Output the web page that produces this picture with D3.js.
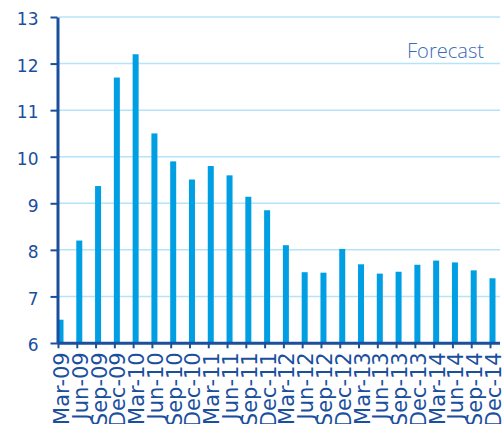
<!DOCTYPE html>
<html>
<head>
<meta charset="utf-8">
<script src="https://cdn.jsdelivr.net/npm/d3@7"></script>
<style>
  body { margin: 0; background: #ffffff; }
  svg { display: block; }
</style>
</head>
<body>
<script>
// quarterly values
var quarters = ["Mar-09", "Jun-09", "Sep-09", "Dec-09", "Mar-10", "Jun-10", "Sep-10", "Dec-10",
                "Mar-11", "Jun-11", "Sep-11", "Dec-11", "Mar-12", "Jun-12", "Sep-12", "Dec-12",
                "Mar-13", "Jun-13", "Sep-13", "Dec-13", "Mar-14", "Jun-14", "Sep-14", "Dec-14"];
var values = [6.5, 8.2, 9.37, 11.7, 12.2, 10.5, 9.9, 9.51,
              9.8, 9.6, 9.14, 8.85, 8.1, 7.52, 7.51, 8.02,
              7.69, 7.49, 7.53, 7.68, 7.77, 7.73, 7.56, 7.39];
var yTicks = [6, 7, 8, 9, 10, 11, 12, 13];
var noteText = "Forecast";

var w = 502, h = 424;
var axisColor = "#1a4f9e",
    barColor = "#009fe3",
    gridColor = "#b5e4f7";

var svg = d3.select("body").append("svg")
    .attr("width", w)
    .attr("height", h);

// scales
var x = d3.scalePoint()
    .domain(quarters)
    .range([58, 490]);

var y = d3.scaleLinear()
    .domain([6, 13])
    .range([343, 17]);

// gridlines
svg.append("g")
    .selectAll("line")
    .data(yTicks.slice(1))
    .enter()
    .append("line")
    .attr("x1", 59)
    .attr("x2", 500)
    .attr("y1", function(d){ return y(d); })
    .attr("y2", function(d){ return y(d); })
    .style("stroke", gridColor)
    .style("stroke-width", 1.5);

// bars
svg.append("g")
    .selectAll("rect")
    .data(values)
    .enter()
    .append("rect")
    .attr("x", function(d, i){ return x(quarters[i]) - 0.5; })
    .attr("y", function(d){ return y(d); })
    .attr("width", 6)
    .attr("height", function(d){ return y(6) - y(d); })
    .style("fill", barColor);

// y axis
var yAxis = svg.append("g")
    .attr("transform", "translate(57.5,0)")
    .call(d3.axisLeft(y)
        .tickValues(yTicks)
        .tickFormat(d3.format("d"))
        .tickSize(7)
        .tickSizeOuter(0));

yAxis.select(".domain").style("stroke", axisColor).style("stroke-width", 3);
yAxis.selectAll(".tick line").style("stroke", axisColor).style("stroke-width", 2);
yAxis.selectAll(".tick text")
    .attr("x", -19)
    .attr("dy", "0.46em")
    .style("fill", axisColor)
    .style("font-family", "'DejaVu Sans', sans-serif")
    .style("font-size", "17px");

// x axis
var xAxis = svg.append("g")
    .attr("transform", "translate(0,343.3)")
    .call(d3.axisBottom(x).tickSize(5).tickSizeOuter(0));

xAxis.select(".domain")
    .attr("d", "M57.5,0H500")
    .style("stroke", axisColor)
    .style("stroke-width", 3);
xAxis.selectAll(".tick line").style("stroke", axisColor).style("stroke-width", 2);
xAxis.selectAll(".tick text")
    .attr("text-anchor", "end")
    .attr("transform", "translate(10.5,9) rotate(-90)")
    .attr("x", 0)
    .attr("y", 0)
    .attr("dy", 0)
    .style("fill", axisColor)
    .style("font-family", "'DejaVu Sans', sans-serif")
    .style("font-size", "21px");

// note
svg.append("text")
    .attr("x", 484)
    .attr("y", 57.5)
    .attr("text-anchor", "end")
    .attr("textLength", 77)
    .attr("lengthAdjust", "spacingAndGlyphs")
    .style("fill", "#3a6cb6")
    .style("font-family", "'Open Sans', sans-serif")
    .style("font-weight", 300)
    .style("font-size", "20px")
    .text(noteText);
</script>
</body>
</html>
